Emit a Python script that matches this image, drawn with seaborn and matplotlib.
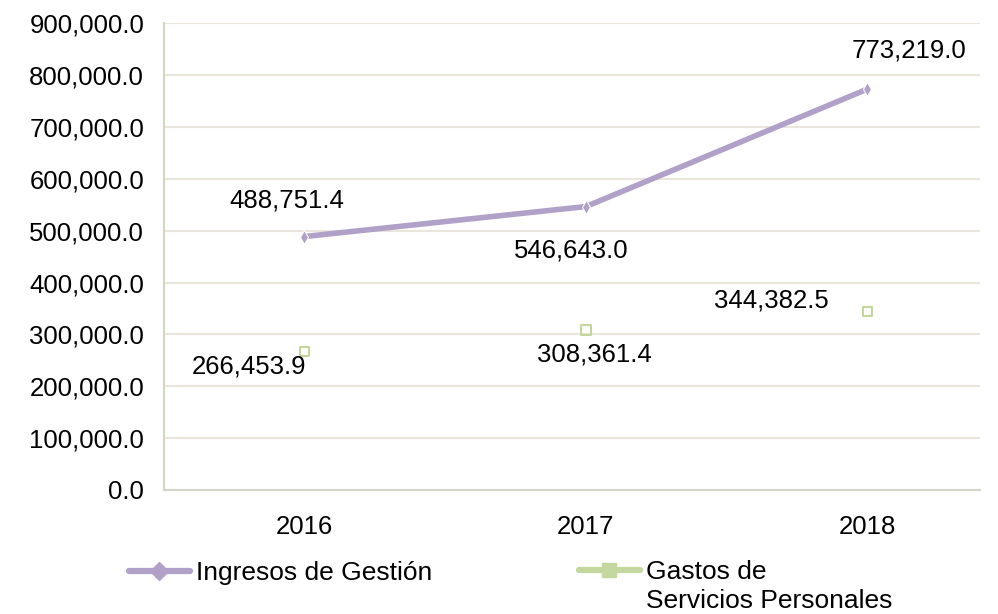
import matplotlib
matplotlib.use("Agg")
import matplotlib.pyplot as plt
import seaborn as sns
import pandas as pd
from matplotlib.lines import Line2D
from matplotlib.ticker import FuncFormatter

years = ["2016", "2017", "2018"]
ingresos = [488751.4, 546643.0, 773219.0]
gastos = [266453.9, 308361.4, 344382.5]
series_names = ["Ingresos de Gestión", "Gastos de\nServicios Personales"]

purple = "#b1a0c8"
green = "#c4d79e"

sns.set_theme(style="white")
plt.rcParams['font.family'] = ['Liberation Sans', 'DejaVu Sans']
plt.rcParams['text.color'] = 'black'

FS = 18.5

fig = plt.figure(figsize=(9.98, 6.14), dpi=100)
ax = fig.add_axes([0.164, 0.202, 0.818, 0.76])

df = pd.DataFrame({"year": years, "ingresos": ingresos, "gastos": gastos})
df["x"] = range(len(years))

sns.lineplot(data=df, x="x", y="ingresos", ax=ax, color=purple, linewidth=4,
             marker="d", markersize=7, solid_capstyle="round")
sns.scatterplot(data=df, x="x", y="gastos", ax=ax, color=green, marker="s",
                s=45, edgecolor=green, linewidth=1.5, facecolor="none", zorder=3)

ax.set_xlim(-0.5, 2.4)
ax.set_ylim(0, 900000)
ax.set_yticks(range(0, 900001, 100000))
ax.yaxis.set_major_formatter(FuncFormatter(lambda v, p: f"{v:,.1f}"))
ax.set_xticks(range(len(years)))
ax.set_xticklabels(years)
ax.set_xlabel("")
ax.set_ylabel("")
ax.tick_params(axis="both", labelsize=FS, labelcolor="black", length=0)
ax.tick_params(axis="y", pad=14)
ax.tick_params(axis="x", pad=18)
ax.yaxis.grid(True, color="#ebe6dc", linewidth=1.5)
ax.set_axisbelow(True)
for s in ["top", "right"]:
    ax.spines[s].set_visible(False)
for s in ["left", "bottom"]:
    ax.spines[s].set_color("#d2d6c6")
    ax.spines[s].set_linewidth(1.5)

# data labels
ioff = [(-0.064, 70000), (-0.053, -84000), (0.146, 75000)]
goff = [(-0.196, -29000), (0.03, -48000), (-0.34, 22000)]
for i in range(len(years)):
    ax.text(i + ioff[i][0], ingresos[i] + ioff[i][1], f"{ingresos[i]:,.1f}",
            ha="center", va="center", fontsize=FS, color="black")
    ax.text(i + goff[i][0], gastos[i] + goff[i][1], f"{gastos[i]:,.1f}",
            ha="center", va="center", fontsize=FS, color="black")

handles = [Line2D([], [], color=purple, linewidth=4.5, marker="D", markersize=9, solid_capstyle="round"),
           Line2D([], [], color=green, linewidth=4.5, marker="s", markersize=10, solid_capstyle="round")]
lab1 = series_names[0]
lab2_first, lab2_rest = series_names[1].split("\n")
kw = dict(loc="center left", ncol=1, frameon=False, fontsize=FS + 0.5, handlelength=2.3,
          handletextpad=0.25, borderaxespad=0, borderpad=0)
leg1 = fig.legend([handles[0]], [lab1], bbox_to_anchor=(129 / 998, 1 - 573 / 614), **kw)
leg2 = fig.legend([handles[1]], [lab2_first], bbox_to_anchor=(579 / 998, 1 - 572 / 614), **kw)
fig.canvas.draw()
bb = leg2.get_texts()[0].get_window_extent()
fig.text(bb.x0 / fig.bbox.width, (1 - 601 / 614), lab2_rest, fontsize=FS + 0.5,
         ha="left", va="center", color="black")

fig.savefig("out.png", dpi=100)
